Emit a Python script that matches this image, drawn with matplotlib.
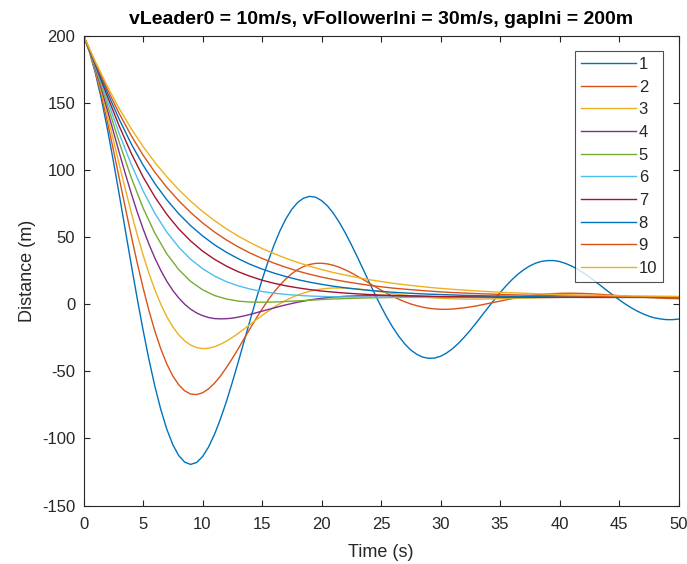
import matplotlib
matplotlib.use("Agg")
import matplotlib.pyplot as plt

# time axes (s): half-second steps where the curves bend hard, 1 s elsewhere
time_half = [i * 0.5 for i in range(0, 101)]
time_2 = [i * 0.5 for i in range(0, 63)] + list(range(32, 51))
time_34 = [i * 0.5 for i in range(0, 43)] + list(range(22, 51))
time_unit = list(range(0, 51))

# gap (m) for each of the 10 runs
gap_1 = [200.0, 187.9, 171.9, 152.7, 130.8, 106.9, 81.7, 55.8, 30.0, 4.8,
         -19.1, -41.3, -61.3, -78.7, -93.2, -104.6, -112.8, -117.7, -119.4, -118.0,
         -113.6, -106.6, -97.2, -85.8, -72.8, -58.4, -43.3, -27.6, -12.0, 3.3,
         17.9, 31.4, 43.7, 54.4, 63.4, 70.5, 75.7, 78.9, 80.2, 79.6,
         77.1, 73.1, 67.6, 60.8, 53.0, 44.4, 35.3, 25.9, 16.4, 7.2,
         -1.7, -10.0, -17.5, -24.1, -29.7, -34.2, -37.4, -39.5, -40.4, -40.2,
         -38.9, -36.5, -33.3, -29.3, -24.6, -19.5, -14.0, -8.3, -2.6, 3.0,
         8.4, 13.5, 18.1, 22.2, 25.6, 28.4, 30.5, 31.8, 32.4, 32.4,
         31.7, 30.3, 28.4, 26.1, 23.3, 20.2, 16.9, 13.5, 10.0, 6.6,
         3.3, 0.2, -2.6, -5.1, -7.2, -9.0, -10.3, -11.1, -11.6, -11.6,
         -11.2]
gap_2 = [200.0, 188.2, 173.1, 155.5, 136.0, 115.2, 93.8, 72.4, 51.3, 31.2,
         12.4, -4.9, -20.2, -33.5, -44.6, -53.5, -60.1, -64.6, -67.0, -67.4,
         -66.1, -63.2, -59.0, -53.7, -47.4, -40.6, -33.3, -25.7, -18.2, -10.8,
         -3.8, 2.8, 8.8, 14.1, 18.7, 22.6, 25.7, 28.0, 29.5, 30.3,
         30.4, 29.9, 28.9, 27.4, 25.5, 23.3, 20.8, 18.3, 15.6, 13.0,
         10.4, 8.0, 5.7, 3.6, 1.7, 0.1, -1.2, -2.3, -3.1, -3.6,
         -3.9, -3.9, -3.7,
         -2.8, -1.4, 0.4, 2.2, 4.0, 5.5, 6.8, 7.6, 8.0,
         8.1, 7.9, 7.5, 6.9, 6.3, 5.6, 5.1, 4.6, 4.2, 4.0]
gap_3 = [200.0, 188.4, 174.2, 158.1, 140.7, 122.5, 104.1, 86.1, 68.6, 52.1,
         36.8, 22.9, 10.6, -0.2, -9.4, -16.9, -22.9, -27.4, -30.5, -32.4,
         -33.2, -32.9, -31.8, -30.0, -27.7, -24.9, -21.8, -18.5, -15.2, -11.8,
         -8.5, -5.4, -2.4, 0.3, 2.7, 4.9, 6.7, 8.3, 9.5, 10.5,
         11.2, 11.7, 12.0,
         11.9, 11.3, 10.3, 9.1, 7.8, 6.7, 5.7, 4.9, 4.3,
         3.9, 3.7, 3.7, 3.8, 4.0, 4.2, 4.4, 4.6, 4.8, 5.0,
         5.1, 5.2, 5.2, 5.2, 5.2, 5.2, 5.2, 5.1, 5.1, 5.0]
gap_4 = [200.0, 188.7, 175.3, 160.5, 144.8, 128.8, 112.9, 97.5, 82.8, 68.9,
         56.2, 44.6, 34.2, 25.0, 17.0, 10.2, 4.6, -0.1, -3.8, -6.6,
         -8.6, -10.0, -10.8, -11.0, -10.9, -10.5, -9.7, -8.8, -7.7, -6.5,
         -5.3, -4.1, -2.9, -1.7, -0.6, 0.4, 1.4, 2.2, 3.0, 3.7,
         4.3, 4.8, 5.2,
         5.8, 6.1, 6.2, 6.2, 6.1, 5.9, 5.8, 5.6, 5.4,
         5.3, 5.1, 5.0, 5.0, 5.0, 5.0, 5.0, 5.0, 5.0, 5.0,
         5.0, 5.0, 5.0, 5.0, 5.0, 5.0, 5.0, 5.0, 5.0, 5.0]
gap_5 = [200.0, 176.3, 148.5, 120.5, 94.5, 71.7, 52.7, 37.4, 25.7, 16.9, 10.7,
         6.4, 3.8, 2.2, 1.5, 1.4, 1.5, 1.9, 2.4, 2.9, 3.4,
         3.8, 4.1, 4.4, 4.6, 4.8, 4.9, 5.0, 5.0, 5.0, 5.0,
         5.0, 5.0, 5.0, 5.0, 5.0, 5.0, 5.0, 5.0, 5.0, 5.0,
         5.0, 5.0, 5.0, 5.0, 5.0, 5.0, 5.0, 5.0, 5.0, 5.0]
gap_6 = [200.0, 177.2, 151.9, 127.0, 104.3, 84.4, 67.5, 53.6, 42.4, 33.4, 26.4,
         20.9, 16.7, 13.6, 11.2, 9.4, 8.1, 7.2, 6.5, 6.0, 5.7,
         5.4, 5.3, 5.2, 5.1, 5.0, 5.0, 5.0, 5.0, 5.0, 5.0,
         5.0, 5.0, 5.0, 5.0, 5.0, 5.0, 5.0, 5.0, 5.0, 5.0,
         5.0, 5.0, 5.0, 5.0, 5.0, 5.0, 5.0, 5.0, 5.0, 5.0]
gap_7 = [200.0, 178.1, 154.9, 132.6, 112.5, 94.8, 79.7, 66.8, 56.0, 47.0, 39.5,
         33.4, 28.3, 24.1, 20.7, 17.8, 15.5, 13.6, 12.1, 10.8, 9.7,
         8.9, 8.2, 7.6, 7.1, 6.7, 6.4, 6.2, 6.0, 5.8, 5.6,
         5.5, 5.4, 5.4, 5.3, 5.2, 5.2, 5.2, 5.1, 5.1, 5.1,
         5.1, 5.0, 5.0, 5.0, 5.0, 5.0, 5.0, 5.0, 5.0, 5.0]
gap_8 = [200.0, 178.9, 157.6, 137.6, 119.5, 103.6, 89.7, 77.7, 67.3, 58.4, 50.8,
         44.2, 38.6, 33.8, 29.6, 26.1, 23.1, 20.5, 18.2, 16.3, 14.7,
         13.3, 12.1, 11.1, 10.2, 9.5, 8.8, 8.3, 7.8, 7.4, 7.1,
         6.8, 6.5, 6.3, 6.1, 6.0, 5.8, 5.7, 5.6, 5.5, 5.4,
         5.4, 5.3, 5.3, 5.2, 5.2, 5.2, 5.1, 5.1, 5.1, 5.1]
gap_9 = [200.0, 179.7, 160.0, 141.9, 125.6, 111.0, 98.2, 86.9, 77.0, 68.2, 60.5,
         53.7, 47.8, 42.6, 38.0, 34.0, 30.5, 27.4, 24.6, 22.2, 20.1,
         18.3, 16.7, 15.3, 14.0, 12.9, 11.9, 11.1, 10.4, 9.7, 9.1,
         8.6, 8.2, 7.8, 7.5, 7.2, 6.9, 6.7, 6.5, 6.3, 6.1,
         6.0, 5.9, 5.8, 5.7, 5.6, 5.5, 5.5, 5.4, 5.3, 5.3]
gap_10 = [200.0, 180.4, 162.3, 145.7, 130.8, 117.4, 105.5, 94.8, 85.2, 76.6, 69.0,
          62.2, 56.1, 50.6, 45.8, 41.4, 37.6, 34.1, 31.0, 28.2, 25.7,
          23.5, 21.6, 19.8, 18.2, 16.8, 15.5, 14.4, 13.4, 12.5, 11.7,
          11.0, 10.4, 9.8, 9.3, 8.8, 8.4, 8.1, 7.7, 7.4, 7.2,
          6.9, 6.7, 6.6, 6.4, 6.2, 6.1, 6.0, 5.9, 5.8, 5.7]

runs = [(time_half, gap_1), (time_2, gap_2), (time_34, gap_3), (time_34, gap_4),
        (time_unit, gap_5), (time_unit, gap_6), (time_unit, gap_7),
        (time_unit, gap_8), (time_unit, gap_9), (time_unit, gap_10)]
run_labels = [str(i) for i in range(1, 11)]

# MATLAB default colour order (repeats after 7)
matlab_colors = ['#0072BD', '#D95319', '#EDB120', '#7E2F8E',
                 '#77AC30', '#4DBEEE', '#A2142F']

plt.rcParams['font.family'] = ['Liberation Sans', 'DejaVu Sans']
plt.rcParams['axes.unicode_minus'] = False
axis_gray = '#262626'

fig = plt.figure(figsize=(6.87, 5.64), dpi=100)
ax = fig.add_axes([83.5 / 687, 1 - 505.5 / 564, 595 / 687, 470 / 564])

for i, (t, gap) in enumerate(runs):
    ax.plot(t, gap, color=matlab_colors[i % 7], lw=1.0, label=run_labels[i])

ax.set_xlim(0, 50)
ax.set_ylim(-150, 200)
ax.set_xticks(range(0, 51, 5))
ax.set_yticks(range(-150, 201, 50))

ax.tick_params(direction='in', top=True, right=True, length=4, width=0.8,
               labelsize=12, colors=axis_gray)
ax.tick_params(axis='x', pad=8)
ax.tick_params(axis='y', pad=6)
for sp in ax.spines.values():
    sp.set_color(axis_gray)
    sp.set_linewidth(0.8)

ax.set_xlabel("Time (s)", fontsize=13, color=axis_gray, labelpad=9)
ax.set_ylabel("Distance (m)", fontsize=13, color=axis_gray, labelpad=4)
ax.set_title("vLeader0 = 10m/s, vFollowerIni = 30m/s, gapIni = 200m",
             fontsize=14, fontweight='bold', color='black', pad=8)

leg = ax.legend(loc='upper right', bbox_to_anchor=(0.974, 0.967), borderaxespad=0,
                fontsize=12, frameon=True, fancybox=False, handlelength=3.3,
                handletextpad=0.15, labelspacing=0.46, borderpad=0.35)
leg.get_frame().set_edgecolor(axis_gray)
leg.get_frame().set_linewidth(0.8)
for txt in leg.get_texts():
    txt.set_color(axis_gray)

fig.savefig("out.png", dpi=100)
